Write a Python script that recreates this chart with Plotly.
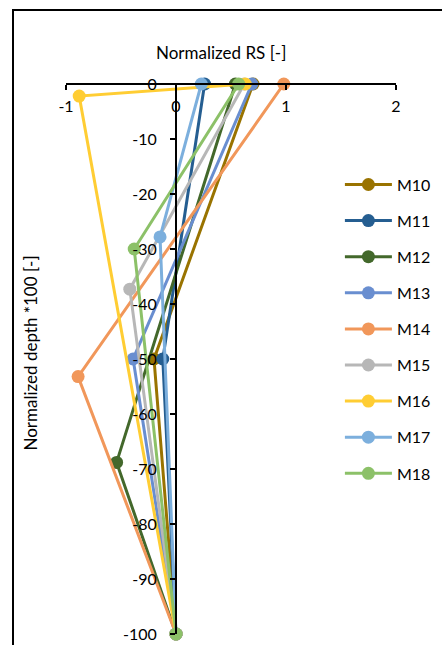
import plotly.graph_objects as go

# Normalized RS profiles versus normalized depth for each specimen
series_names = ["M10", "M11", "M12", "M13", "M14", "M15", "M16", "M17", "M18"]

rs_M10 = [0.70, -0.20, 0.0]
rs_M11 = [0.26, -0.12, 0.0]
rs_M12 = [0.54, -0.54, 0.0]
rs_M13 = [0.69, -0.39, 0.0]
rs_M14 = [0.98, -0.89, 0.0]
rs_M15 = [0.62, -0.42, 0.0]
rs_M16 = [0.63, -0.88, 0.0]
rs_M17 = [0.23, -0.145, 0.0]
rs_M18 = [0.57, -0.38, 0.0]

depth_M10 = [0, -50, -100]
depth_M11 = [0, -50, -100]
depth_M12 = [0, -68.8, -100]
depth_M13 = [0, -50, -100]
depth_M14 = [0, -53.2, -100]
depth_M15 = [0, -37.3, -100]
depth_M16 = [0, -2.2, -100]
depth_M17 = [0, -27.8, -100]
depth_M18 = [0, -30, -100]

rs_values = [rs_M10, rs_M11, rs_M12, rs_M13, rs_M14, rs_M15, rs_M16, rs_M17, rs_M18]
depth_values = [depth_M10, depth_M11, depth_M12, depth_M13, depth_M14,
                depth_M15, depth_M16, depth_M17, depth_M18]

colors = ["#997300", "#255E91", "#43682B", "#698ED0", "#F1975A",
          "#B7B7B7", "#FFCD33", "#7CAFDD", "#8CC168"]

x_ticks = [-1, 0, 1, 2]
y_ticks = [0, -10, -20, -30, -40, -50, -60, -70, -80, -90, -100]

FONT = "Lato, 'Open Sans', sans-serif"

fig = go.Figure()
for name, xs, ys, c in zip(series_names, rs_values, depth_values, colors):
    fig.add_trace(go.Scatter(
        x=xs, y=ys, name=name, mode="lines+markers",
        line=dict(color=c, width=3),
        marker=dict(color=c, size=13),
        cliponaxis=False,
        legendgroup=name,
    ))

fig.update_layout(
    width=442, height=645,
    margin=dict(l=66, r=46, t=84, b=11, autoexpand=False),
    paper_bgcolor="white", plot_bgcolor="white",
    font=dict(family=FONT, size=16, color="black"),
    showlegend=True,
    legend=dict(
        x=0.83, y=0.848, xanchor="left", yanchor="top",
        font=dict(family=FONT, size=16, color="black"),
        tracegroupgap=12.3, itemwidth=47, bgcolor="rgba(0,0,0,0)",
    ),
    # horizontal axis runs along depth 0, with labels hanging below its line
    xaxis=dict(
        range=[-1, 2], side="bottom", anchor="free", position=1,
        tickvals=x_ticks, ticktext=[str(v) for v in x_ticks],
        showline=True, linecolor="black", linewidth=2,
        ticks="outside", ticklen=5, tickwidth=2, tickcolor="black",
        ticklabelstandoff=3,
        showgrid=False, zeroline=False, fixedrange=True,
    ),
    # vertical axis crosses at RS = 0
    yaxis=dict(
        range=[-100, 0], tickvals=y_ticks, ticktext=[str(v) for v in y_ticks],
        anchor="free", position=1/3, side="left",
        showline=True, linecolor="black", linewidth=2,
        ticks="outside", ticklen=5, tickwidth=2, tickcolor="black",
        ticklabelstandoff=10,
        showgrid=False, zeroline=False, fixedrange=True,
    ),
)

# Axis titles
fig.add_annotation(text="Normalized RS [-]", xref="paper", yref="paper",
                   x=0.4697, y=1.0564, xanchor="center", yanchor="middle",
                   showarrow=False,
                   font=dict(family=FONT, size=17, color="black"))
fig.add_annotation(text="Normalized depth *100 [-]", xref="paper", yref="paper",
                   x=-0.109, y=0.51, xanchor="center", yanchor="middle",
                   textangle=-90, showarrow=False,
                   font=dict(family=FONT, size=17, color="black"))

# Outer chart frame
fig.add_shape(type="rect", xref="paper", yref="paper",
              x0=-0.1606, x1=1.6, y0=-0.3, y1=1.1345,
              line=dict(color="black", width=2), fillcolor="rgba(0,0,0,0)")

fig.write_html("out.html")
